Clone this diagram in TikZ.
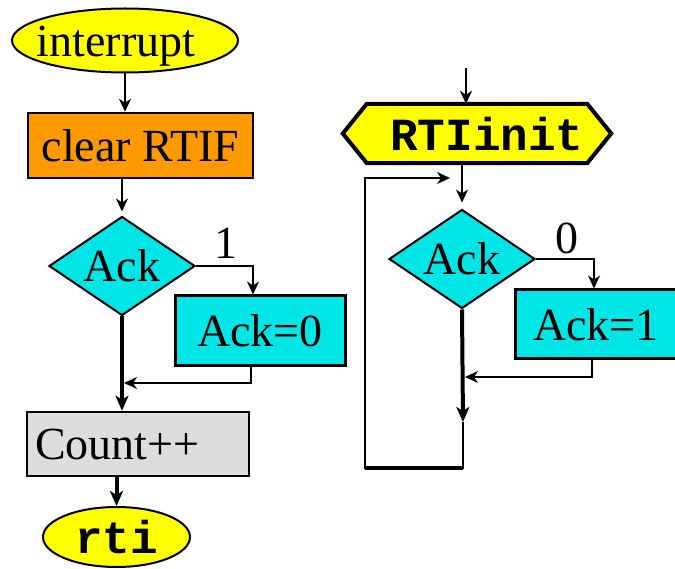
\documentclass[tikz,border=0pt]{standalone}
\usepackage{fontspec}
\setmainfont{Liberation Serif}
\setmonofont{Liberation Mono}
\usetikzlibrary{shapes.geometric,arrows.meta,backgrounds}
\definecolor{cyanbox}{HTML}{00E5E5}
\definecolor{orangebox}{HTML}{FF9900}
\definecolor{graybox}{HTML}{DDDDDD}
\definecolor{yellowbox}{HTML}{FFFF00}
\begin{document}
\begin{tikzpicture}[x=1pt,y=-1pt,
  font=\fontsize{46}{50}\selectfont,
  conn/.style={line width=2pt,-{Stealth[length=13pt,width=12pt,inset=4pt]}},
  connthick/.style={line width=4pt,-{Stealth[length=15pt,width=13pt,inset=4pt]}},
  term/.style={ellipse,draw,fill=yellowbox,line width=2pt,inner sep=0pt},
  dec/.style={diamond,draw,fill=cyanbox,line width=2pt,inner sep=0pt,aspect=1.46,
              minimum width=146pt,minimum height=99pt},
  box/.style={rectangle,draw,line width=2.5pt,inner sep=0pt},
  lbl/.style={inner sep=0pt}]
\useasboundingbox (0,0) rectangle (675,569);

% left flow
\node[term,minimum width=226pt,minimum height=64pt] (interrupt) at (125,40.5)
  {\makebox[0pt]{\smash{\raisebox{-16pt}{interrupt}}\hspace*{18pt}}};
\node[box,fill=orangebox,minimum width=225pt,minimum height=65pt] (clear) at (140.5,145.5) {clear RTIF};
\node[dec] (d1) at (122,266) {Ack};
\node[box,line width=3pt,fill=cyanbox,minimum width=170pt,minimum height=70pt] (a0) at (260,331) {Ack=0};
\node[box,fill=graybox,text width=206pt,align=left,inner xsep=8pt,minimum height=64pt] (count) at (138,444) {Count++};
\node[term,minimum width=147pt,minimum height=60pt,font=\fontsize{46}{50}\selectfont\ttfamily\bfseries] (rti) at (116.5,537) {rti};
\node[lbl] (l1) at (226,243) {1};

\draw[conn] (interrupt.south) -- (interrupt.south |- clear.north);
\draw[conn,shorten >=4pt] (d1.north |- clear.south) -- (d1.north);
\draw[conn] (d1.east) -| ([xshift=-7pt]a0.north);
\coordinate (m1) at (124,383);
\draw[conn] ([xshift=-9pt]a0.south) |- (m1);
\draw[connthick] (d1.south) -- (d1.south |- count.north);
\draw[connthick] (rti.north |- count.south) -- (rti.north);

% right flow
\node[inner sep=0pt,minimum width=220pt,minimum height=59pt,
      font=\fontsize{46}{50}\selectfont\ttfamily\bfseries] (init) at (477,133.5)
  {\makebox[0pt]{\hspace*{20pt}RTIinit}};
\begin{scope}[on background layer]
\filldraw[fill=yellowbox,line width=4pt,line join=miter]
  (init.north west) -- (init.north east) -- ([xshift=24pt]init.east)
  -- (init.south east) -- (init.south west) -- ([xshift=-24pt]init.west) -- cycle;
\end{scope}
\node[dec] (d2) at (462,259) {Ack};
\node[box,line width=3pt,fill=cyanbox,minimum width=162pt,minimum height=69pt] (a1) at (596,324.5) {Ack=1};
\node[lbl] (l0) at (567,238) {0};

\coordinate (top) at (466,68);
\draw[conn] (top) -- (top |- init.north);
\draw[conn,shorten >=6pt] (d2.north |- init.south) -- (d2.north);
\draw[conn] (d2.east) -| ([xshift=-2pt]a1.north);
\coordinate (m2) at (465,377);
\draw[conn] ([xshift=-4pt]a1.south) |- (m2);
\coordinate (m3) at (463,422);
\draw[connthick] (d2.south) -- (m3);
\coordinate (c1) at (463,468);
\coordinate (c2) at (365,468);
\coordinate (c3) at (365,178);
\coordinate (c4) at (450,178);
\draw[conn] (m3) -- (c1) -- (c2) -- (c3) -- (c4);
\draw[line width=4pt] (c1) -- (c2);
\end{tikzpicture}
\end{document}
